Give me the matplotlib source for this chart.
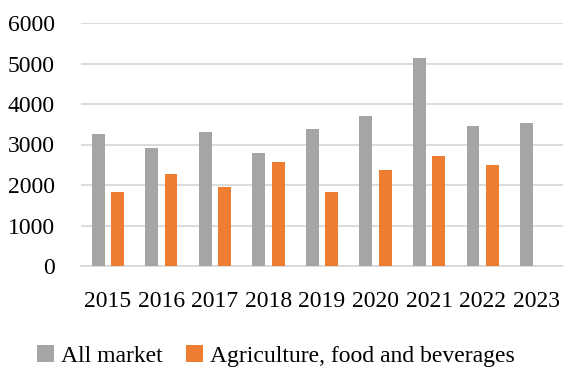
import numpy as np
import matplotlib
matplotlib.use("Agg")
import matplotlib.pyplot as plt

years = ["2015", "2016", "2017", "2018", "2019", "2020", "2021", "2022", "2023"]
all_market = [3260, 2925, 3315, 2795, 3380, 3700, 5135, 3455, 3540]
agri_food = [1815, 2260, 1955, 2565, 1820, 2365, 2710, 2500, np.nan]

plt.rcParams["font.family"] = ["Liberation Serif", "DejaVu Serif"]

fig = plt.figure(figsize=(5.63, 3.69), dpi=100)
ax = fig.add_axes([81 / 563, 1 - 266 / 369, 482 / 563, 243 / 369])

x = np.arange(len(years))
w = 0.24
ax.bar(x - 0.18, all_market, w, color="#a5a5a5", label="All market", zorder=3)
ax.bar(x + 0.18, agri_food, w, color="#ed7d31", label="Agriculture, food and beverages", zorder=3)

ax.set_xlim(-0.5, len(years) - 0.5)
ax.set_ylim(0, 6000)
ax.set_yticks(range(0, 6001, 1000))
ax.set_xticks(x)
ax.set_xticklabels(years)
ax.tick_params(axis="both", length=0, labelsize=17, colors="black")
ax.tick_params(axis="y", pad=19)
ax.tick_params(axis="x", pad=18)
ax.yaxis.grid(True, color="#d9d9d9", linewidth=1.3, zorder=0)
for s in ["top", "right", "left"]:
    ax.spines[s].set_visible(False)
ax.spines["bottom"].set_color("#d9d9d9")
ax.spines["bottom"].set_linewidth(1.3)

fig.legend(loc="center", bbox_to_anchor=(276 / 563, 1 - 356 / 369), ncol=2,
           frameon=False, fontsize=17, handlelength=0.7, handleheight=0.7,
           handletextpad=0.3, columnspacing=1.0)

fig.savefig("out.png", dpi=100)
